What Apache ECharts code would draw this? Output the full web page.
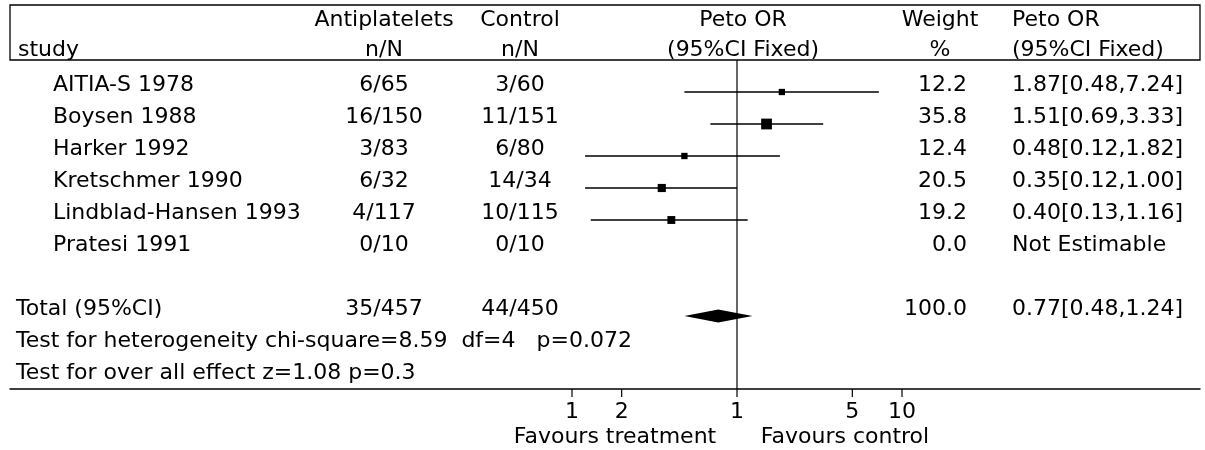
<!DOCTYPE html>
<html><head><meta charset="utf-8">
<script src="https://cdn.jsdelivr.net/npm/echarts@6/dist/echarts.min.js"></script>
<style>html,body{margin:0;padding:0;background:#fff}#c{width:1205px;height:450px}</style>
</head><body><div id="c"></div>
<script>
// ---------------- data ----------------
const studies = ['AITIA-S 1978','Boysen 1988','Harker 1992','Kretschmer 1990','Lindblad-Hansen 1993','Pratesi 1991'];
const antiplatelets = ['6/65','16/150','3/83','6/32','4/117','0/10'];
const controls = ['3/60','11/151','6/80','14/34','10/115','0/10'];
const weights = [12.2, 35.8, 12.4, 20.5, 19.2, 0.0];
const petoOR = [1.87, 1.51, 0.48, 0.35, 0.40, null];
const ciLow  = [0.48, 0.69, 0.12, 0.12, 0.13, null];
const ciHigh = [7.24, 3.33, 1.82, 1.00, 1.16, null];
const totalLabel = 'Total (95%CI)';
const totalAnti = '35/457';
const totalCtrl = '44/450';
const totalWeight = 100.0;
const totalOR = [0.77, 0.48, 1.24]; // estimate, low, high
const heterogeneityText = 'Test for heterogeneity chi-square=8.59  df=4   p=0.072';
const overallText = 'Test for over all effect z=1.08 p=0.3';
const tickValues = [0.1, 0.2, 1, 5, 10];
const tickLabels = ['1', '2', '1', '5', '10'];
const nullEffect = 1;
const favoursLeft = 'Favours treatment';
const favoursRight = 'Favours control';
const notEstimable = 'Not Estimable';

// ---------------- layout ----------------
const FONT = 'DejaVu Sans';
const FS = 22;
const PITCH = 32;            // px per row
const TOP = 60, PLOT_H = 329;
const Y_MAX = PLOT_H / PITCH;
const TXT = -0.2;            // text sits slightly above the marker line
const H1 = -1.25, H2 = -0.3; // header text rows
const X_HDR = 18, X_STUDY = 53, X_TOTAL = 16, X_ANTI = 384, X_CTRL = 520,
      X_PETO = 743, X_WHDR = 940, X_W = 967, X_OR = 1012;

const fmtOR = (o, l, h) => o.toFixed(2) + '[' + l.toFixed(2) + ',' + h.toFixed(2) + ']';

const texts = [];
const add = (x, r, t, a) => texts.push([x, r, t, a]);
// header
add(X_HDR, H2, 'study', 'left');
add(X_ANTI, H1, 'Antiplatelets', 'center'); add(X_ANTI, H2, 'n/N', 'center');
add(X_CTRL, H1, 'Control', 'center');       add(X_CTRL, H2, 'n/N', 'center');
add(X_PETO, H1, 'Peto OR', 'center');       add(X_PETO, H2, '(95%CI Fixed)', 'center');
add(X_WHDR, H1, 'Weight', 'center');        add(X_WHDR, H2, '%', 'center');
add(X_OR, H1, 'Peto OR', 'left');           add(X_OR, H2, '(95%CI Fixed)', 'left');
// studies
studies.forEach((s, i) => {
  const r = i + 1 + TXT;
  add(X_STUDY, r, s, 'left');
  add(X_ANTI, r, antiplatelets[i], 'center');
  add(X_CTRL, r, controls[i], 'center');
  add(X_W, r, weights[i].toFixed(1), 'right');
  add(X_OR, r, petoOR[i] == null ? notEstimable : fmtOR(petoOR[i], ciLow[i], ciHigh[i]), 'left');
});
const TOTAL_ROW = 8;
add(X_TOTAL, TOTAL_ROW + TXT, totalLabel, 'left');
add(X_ANTI, TOTAL_ROW + TXT, totalAnti, 'center');
add(X_CTRL, TOTAL_ROW + TXT, totalCtrl, 'center');
add(X_W, TOTAL_ROW + TXT, totalWeight.toFixed(1), 'right');
add(X_OR, TOTAL_ROW + TXT, fmtOR(totalOR[0], totalOR[1], totalOR[2]), 'left');
add(X_TOTAL, 9 + TXT, heterogeneityText, 'left');
add(X_TOTAL, 10 + TXT, overallText, 'left');
add(615, 11.78, favoursLeft, 'center');
add(845, 11.78, favoursRight, 'center');

const forestData = [];
studies.forEach((s, i) => {
  if (petoOR[i] != null) forestData.push([ciLow[i], ciHigh[i], petoOR[i], i + 1, weights[i]]);
});

const chart = echarts.init(document.getElementById('c'));
chart.setOption({
  animation: false,
  backgroundColor: '#fff',
  grid: [
    {left: 572, width: 330, top: TOP, height: PLOT_H},                 // forest plot
    {left: 10, right: 5, top: TOP, height: PLOT_H},                     // table
    {left: 10, right: 5, top: 5, height: 55, show: true, borderColor: '#000', borderWidth: 1.3, backgroundColor: 'transparent'} // header box
  ],
  xAxis: [
    {type: 'log', logBase: 10, min: 0.1, max: 10, gridIndex: 0,
     axisLine: {show: false}, axisTick: {show: false}, axisLabel: {show: false}, splitLine: {show: false}},
    {type: 'value', min: 10, max: 1200, gridIndex: 1,
     axisLine: {show: true, onZero: false, lineStyle: {color: '#000', width: 1.5}},
     axisTick: {show: false}, axisLabel: {show: false}, splitLine: {show: false}},
    {type: 'value', gridIndex: 2, show: false}
  ],
  yAxis: [
    {type: 'value', inverse: true, min: 0, max: Y_MAX, gridIndex: 0, show: false},
    {type: 'value', inverse: true, min: 0, max: Y_MAX, gridIndex: 1, show: false},
    {type: 'value', gridIndex: 2, show: false}
  ],
  series: [
    { // table text
      type: 'scatter', xAxisIndex: 1, yAxisIndex: 1, symbolSize: 0, clip: false, silent: true, z: 5,
      itemStyle: {opacity: 1},
      data: texts.map(([x, r, t, a]) => ({value: [x, r], name: t, label: {align: a}})),
      label: {show: true, position: 'inside', verticalAlign: 'middle', formatter: p => p.name,
              color: '#000', opacity: 1, fontFamily: FONT, fontSize: FS}
    },
    { // line of no effect
      type: 'line', xAxisIndex: 0, yAxisIndex: 0, symbol: 'none', silent: true, z: 2,
      data: [[nullEffect, 0], [nullEffect, Y_MAX]],
      lineStyle: {color: '#000', width: 1.2}
    },
    { // study CIs and squares
      type: 'custom', xAxisIndex: 0, yAxisIndex: 0, z: 4, silent: true,
      encode: {x: [0, 1, 2], y: 3},
      data: forestData,
      renderItem: (params, api) => {
        const r = api.value(3);
        const lo = api.coord([api.value(0), r]);
        const hi = api.coord([api.value(1), r]);
        const c = api.coord([api.value(2), r]);
        const s = 1.8 * Math.sqrt(api.value(4));
        return {type: 'group', children: [
          {type: 'line', shape: {x1: lo[0], y1: lo[1], x2: hi[0], y2: hi[1]}, style: {stroke: '#000', lineWidth: 1.6}},
          {type: 'rect', shape: {x: c[0] - s / 2, y: c[1] - s / 2, width: s, height: s}, style: {fill: '#000'}}
        ]};
      }
    },
    { // total diamond
      type: 'custom', xAxisIndex: 0, yAxisIndex: 0, z: 4, silent: true,
      encode: {x: [0, 1, 2], y: 3},
      data: [[totalOR[1], totalOR[2], totalOR[0], TOTAL_ROW]],
      renderItem: (params, api) => {
        const r = api.value(3);
        const lo = api.coord([api.value(0), r]);
        const hi = api.coord([api.value(1), r]);
        const c = api.coord([api.value(2), r]);
        const h = 6.5;
        return {type: 'polygon', shape: {points: [[lo[0], lo[1]], [c[0], c[1] - h], [hi[0], hi[1]], [c[0], c[1] + h]]},
                style: {fill: '#000'}};
      }
    },
    { // axis ticks and labels
      type: 'custom', xAxisIndex: 0, yAxisIndex: 0, z: 4, silent: true,
      encode: {x: 0, y: 1},
      data: tickValues.map((v, i) => [v, Y_MAX, tickLabels[i]]),
      renderItem: (params, api) => {
        const p = api.coord([api.value(0), api.value(1)]);
        return {type: 'group', children: [
          {type: 'line', shape: {x1: p[0], y1: p[1], x2: p[0], y2: p[1] + 8}, style: {stroke: '#000', lineWidth: 1.2}},
          {type: 'text', x: p[0], y: p[1] + 23, style: {text: tickLabels[params.dataIndex], align: 'center', verticalAlign: 'middle',
            fill: '#000', font: FS + 'px "' + FONT + '"'}}
        ]};
      }
    }
  ]
});
</script>
</body></html>
